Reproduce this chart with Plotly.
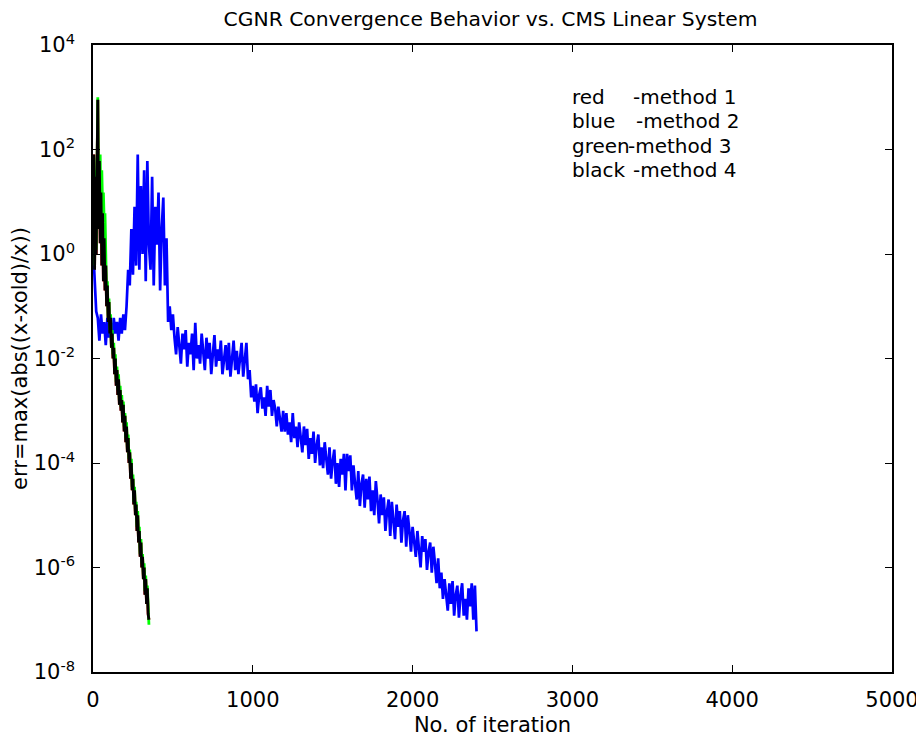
import plotly.graph_objects as go

# ---------------- data ----------------
blue_iter = list(range(0, 2401, 10))
blue_err = [
    1.5, 0.25, 0.08, 0.06, 0.022, 0.07, 0.03, 0.05, 0.018, 0.06,
    0.025, 0.05, 0.02, 0.06, 0.03, 0.05, 0.022, 0.06, 0.03, 0.07,
    0.035, 0.1, 0.5, 0.25, 3, 0.4, 8, 0.6, 80, 0.5,
    20, 1.0, 40, 0.3, 60, 1.5, 0.5, 30, 0.25, 8,
    1.5, 15, 0.2, 3, 12, 0.25, 2, 0.05, 0.1, 0.035,
    0.07, 0.025, 0.012, 0.04, 0.02, 0.008, 0.03, 0.015, 0.035, 0.007,
    0.02, 0.012, 0.03, 0.006, 0.048, 0.01, 0.018, 0.008, 0.03, 0.014,
    0.006, 0.025, 0.01, 0.02, 0.005, 0.012, 0.028, 0.007, 0.015, 0.009,
    0.022, 0.005, 0.01, 0.018, 0.006, 0.02, 0.0045, 0.012, 0.022, 0.006,
    0.014, 0.005, 0.01, 0.02, 0.0045, 0.009, 0.02, 0.004, 0.006, 0.0018,
    0.003, 0.0015, 0.0032, 0.0009, 0.002, 0.0028, 0.0011, 0.0018, 0.0008, 0.003,
    0.0012, 0.0025, 0.0008, 0.0016, 0.0011, 0.0005, 0.0012, 0.0007, 0.0004, 0.001,
    4e-4, 9e-4, 3.5e-4, 6e-4, 2.5e-4, 9e-4, 3e-4, 5e-4, 2e-4, 6e-4,
    3e-4, 1.6e-4, 5e-4, 2.2e-4, 4.5e-4, 1.2e-4, 3e-4, 1.5e-4, 4e-4, 1e-4,
    2.2e-4, 3.5e-4, 9e-5, 2e-4, 8e-5, 2.5e-4, 1.2e-4, 6e-5, 2e-4, 5e-5,
    1.1e-4, 1.8e-4, 4e-5, 1e-4, 3.5e-5, 1.2e-4, 6e-5, 1.5e-4, 3e-5, 1.5e-4,
    7e-5, 1.4e-4, 3e-5, 9e-5, 4e-5, 2e-5, 7e-5, 1.5e-5, 4e-5, 6e-5,
    1.4e-5, 5e-5, 2e-5, 5.5e-5, 1.2e-5, 3e-5, 1e-5, 4.5e-5, 2e-5, 7e-6,
    2.5e-5, 1e-5, 2.2e-5, 5e-6, 1.2e-5, 2e-5, 4e-6, 1.8e-5, 8e-6, 3.5e-6,
    1.6e-5, 6e-6, 1.2e-5, 3e-6, 8e-6, 1.2e-5, 2.5e-6, 1e-5, 5e-6, 2e-6,
    6e-6, 3e-6, 1.6e-6, 5e-6, 2.5e-6, 1e-6, 4e-6, 2e-6, 3.5e-6, 9e-7,
    2e-6, 3e-6, 8e-7, 2.5e-6, 1.2e-6, 5e-7, 1.5e-6, 4e-7, 8e-7, 2.5e-7,
    6e-7, 2.5e-7, 1.5e-7, 5e-7, 2e-7, 5.5e-7, 1.2e-7, 3e-7, 4.5e-7, 1.1e-7,
    3e-7, 5e-7, 1.2e-7, 2.5e-7, 1e-7, 4e-7, 1.8e-7, 5e-7, 1e-7, 4.5e-7,
    6e-8,
]

fast_iter = list(range(0, 351, 5))
black_err = [
    3, 80, 0.5, 30, 1, 300, 900, 3, 60, 1.6,
    15, 0.6, 6, 0.3, 2, 0.2, 0.6, 0.1, 0.25, 0.05,
    0.12, 0.03, 0.06, 0.016, 0.03, 0.01, 0.016, 0.005, 0.01, 0.003,
    0.006, 0.002, 0.004, 0.0013, 0.0025, 0.001, 0.0016, 6e-4, 1.3e-3, 4e-4,
    8e-4, 2.5e-4, 5e-4, 1.6e-4, 3e-4, 1e-4, 1.6e-4, 5e-5, 1e-4, 3e-5,
    5e-5, 1.6e-5, 3e-5, 1e-5, 1.6e-5, 5e-6, 1e-5, 3e-6, 5e-6, 1.6e-6,
    3e-6, 1e-6, 1.6e-6, 6e-7, 1e-6, 3e-7, 6e-7, 2e-7, 4e-7, 1.3e-7,
    1e-7,
]
green_err = [
    3, 70, 0.6, 40, 1.2, 250, 1000, 4, 50, 80,
    5, 40, 8, 15, 4, 6, 1, 0.15, 0.3, 0.06,
    0.14, 0.035, 0.07, 0.018, 0.035, 0.012, 0.02, 0.006, 0.012, 0.0035,
    0.007, 0.0025, 0.005, 0.0015, 0.003, 0.0012, 0.002, 7e-4, 1.5e-3, 5e-4,
    9e-4, 3e-4, 6e-4, 1.8e-4, 3.5e-4, 1.2e-4, 1.8e-4, 6e-5, 1.2e-4, 3.5e-5,
    6e-5, 1.8e-5, 3.5e-5, 1.2e-5, 1.8e-5, 6e-6, 1.2e-5, 3.5e-6, 6e-6, 1.8e-6,
    3.5e-6, 1.2e-6, 1.8e-6, 7e-7, 1.2e-6, 3.5e-7, 7e-7, 2.2e-7, 4.5e-7, 1.5e-7,
    8e-8,
]
red_err = list(black_err)  # method 1 lies underneath method 4

y_tick_vals = [1e-8, 1e-6, 1e-4, 1e-2, 1e0, 1e2, 1e4]
y_tick_text = ["10<sup>-8</sup>", "10<sup>-6</sup>", "10<sup>-4</sup>",
               "10<sup>-2</sup>", "10<sup>0</sup>", "10<sup>2</sup>", "10<sup>4</sup>"]
x_tick_vals = [0, 1000, 2000, 3000, 4000, 5000]

legend_colors = ["red", "blue", "green", "black"]
legend_methods = ["-method 1", "-method 2", "-method 3", "-method 4"]

# ---------------- figure ----------------
# the page body has an 8px margin, so the figure is 8px smaller and offset
FONT = "DejaVu Sans"
W, H = 916, 736
fig = go.Figure()
fig.add_trace(go.Scatter(x=fast_iter, y=red_err, mode="lines",
                         line=dict(color="#ff0000", width=2.8), showlegend=False))
fig.add_trace(go.Scatter(x=blue_iter, y=blue_err, mode="lines",
                         line=dict(color="#0000ff", width=2.7), showlegend=False))
fig.add_trace(go.Scatter(x=fast_iter, y=green_err, mode="lines",
                         line=dict(color="#00ff00", width=2.8), showlegend=False))
fig.add_trace(go.Scatter(x=fast_iter, y=black_err, mode="lines",
                         line=dict(color="#000000", width=2.8), showlegend=False))

row_y = [0.9170, 0.8780, 0.8390, 0.8000]
method_x = [0.6758, 0.6796, 0.6703, 0.6758]
for word, meth, yy, mx in zip(legend_colors, legend_methods, row_y, method_x):
    fig.add_annotation(x=0.5975, y=yy, xref="paper", yref="paper", text=word,
                       showarrow=False, xanchor="left", yanchor="middle",
                       font=dict(family=FONT, size=20, color="black"))
    fig.add_annotation(x=mx - 0.003, y=yy, xref="paper", yref="paper", text=meth,
                       showarrow=False, xanchor="left", yanchor="middle",
                       font=dict(family=FONT, size=20, color="black"))

axis_common = dict(showline=True, linecolor="black", linewidth=1.5, mirror="ticks",
                   ticks="inside", ticklen=7, tickwidth=1.2, tickcolor="black",
                   showgrid=False, zeroline=False, automargin=False,
                   ticklabeloverflow="allow",
                   tickfont=dict(family=FONT, size=21, color="black"))

fig.update_layout(
    width=W, height=H,
    paper_bgcolor="white", plot_bgcolor="white",
    margin=dict(l=85, r=32, t=37, b=72, autoexpand=False),
    title=dict(text="CGNR Convergence Behavior vs. CMS Linear System",
               x=(490.5 - 8) / W, xanchor="center", xref="container",
               y=1 - 11 / H, yanchor="middle", yref="container",
               font=dict(family=FONT, size=20.3, color="black")),
    xaxis=dict(range=[0, 5000], tickvals=x_tick_vals, ticklabelstandoff=8,
               title=dict(text="No. of iteration", standoff=6,
                          font=dict(family=FONT, size=21, color="black")),
               **axis_common),
    yaxis=dict(type="log", range=[-8, 4], tickvals=y_tick_vals, ticktext=y_tick_text,
               ticklabelstandoff=12,
               title=dict(text="err=max(abs((x-xold)/x))", standoff=8,
                          font=dict(family=FONT, size=21, color="black")),
               **axis_common),
)

fig.write_html("out.html")
